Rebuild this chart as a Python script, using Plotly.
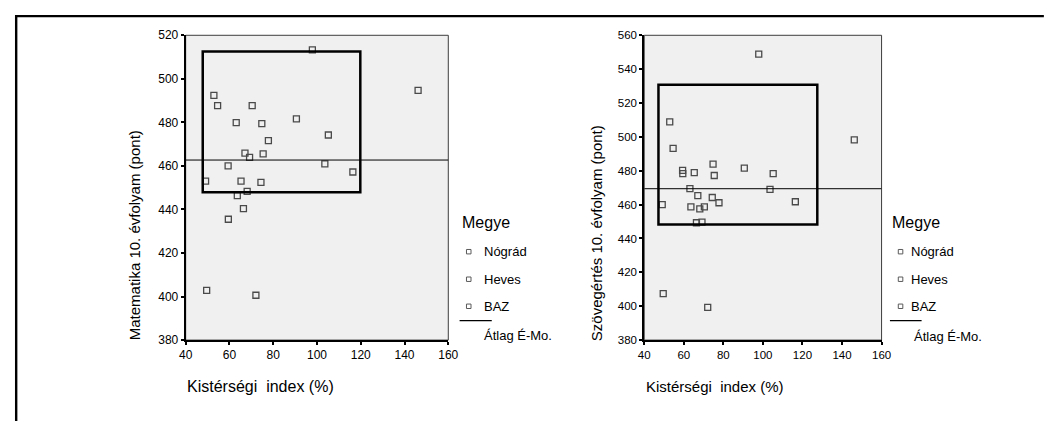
import plotly.graph_objects as go

# The page keeps the browser's 8px body margin, so the figure is sized to fill
# the 1054x429 window exactly; reference pixel positions are shifted by 8px.
PAGE_W, PAGE_H, M = 1054, 429, 8
FW, FH = PAGE_W - 2 * M, PAGE_H - 2 * M


def px(x):
    return (x - M) / FW


def py(y):
    return 1 - (y - M) / FH


# ---------------- data ----------------
counties = ["Nógrád", "Heves", "BAZ"]
index_pct = [97.9, 146.2, 52.9, 54.6, 70.4, 63.1, 74.8, 90.6, 105.2, 77.8, 67.1, 69.2, 75.4,
             59.4, 103.6, 116.4, 49.1, 65.3, 74.4, 68.1, 63.6, 66.4, 59.5, 49.6, 72.1]
matek = [513.3, 494.7, 492.4, 487.7, 487.7, 479.9, 479.4, 481.6, 474.2, 471.6, 465.9, 463.9, 465.5,
         460.0, 460.9, 457.2, 453.0, 453.0, 452.4, 448.3, 446.4, 440.4, 435.5, 402.8, 400.6]
szoveg = [548.9, 498.2, 508.9, 493.2, 458.7, 469.5, 483.9, 481.6, 478.3, 461.1, 465.3, 449.7, 477.2,
          480.2, 469.0, 461.7, 460.0, 478.9, 464.2, 457.5, 458.7, 449.3, 478.3, 407.5, 399.3]
megye = ["Heves", "Heves", "Nógrád", "Nógrád", "BAZ", "BAZ", "Heves", "Heves", "Heves", "BAZ", "BAZ", "BAZ", "BAZ",
         "Nógrád", "Heves", "Heves", "Nógrád", "BAZ", "BAZ", "BAZ", "BAZ", "BAZ", "Nógrád", "Nógrád", "BAZ"]
atlag_matek = 462.7
atlag_szoveg = 469.4
box_matek_x = [47.8, 119.8]
box_matek_y = [447.9, 512.6]
box_szoveg_x = [47.2, 127.5]
box_szoveg_y = [448.3, 530.8]
x_range = [40, 160]
y_range_matek = [380, 520]
y_range_szoveg = [380, 560]
tick_step = 20
legend_title = "Megye"
mean_label = "Átlag É-Mo."
x_title = "Kistérségi\u00a0 index (%)"
y_title_matek = "Matematika 10. évfolyam (pont)"
y_title_szoveg = "Szövegértés 10. évfolyam (pont)"

FONT = "Liberation Sans, Arial, sans-serif"
MARK = dict(symbol="square-open", size=6, color="#4a4a4a", line=dict(width=1.3, color="#4a4a4a"))

fig = go.Figure()
for xa, ya, vals, mean in [("x", "y", matek, atlag_matek), ("x2", "y2", szoveg, atlag_szoveg)]:
    for c in counties:
        xs = [x for x, m in zip(index_pct, megye) if m == c]
        ys = [v for v, m in zip(vals, megye) if m == c]
        fig.add_trace(go.Scatter(x=xs, y=ys, mode="markers", marker=MARK, name=c,
                                 xaxis=xa, yaxis=ya, hoverinfo="x+y+name"))
    fig.add_trace(go.Scatter(x=x_range, y=[mean, mean], mode="lines", name=mean_label,
                             line=dict(color="black", width=1), xaxis=xa, yaxis=ya))

axis_common = dict(
    ticks="outside", ticklen=3, tickwidth=2, tickcolor="black",
    showline=True, linecolor="black", linewidth=2,
    showgrid=False, zeroline=False,
    tickfont=dict(family=FONT, size=12, color="black"),
    dtick=tick_step,
)
small_ticks = dict(family=FONT, size=11.5, color="black")

dom_y = [py(344.5), py(29)]
fig.update_layout(
    width=FW, height=FH,
    margin=dict(l=0, r=0, t=0, b=0),
    paper_bgcolor="white",
    plot_bgcolor="#f0f0f0",
    showlegend=False,
    font=dict(family=FONT, color="black"),
    xaxis=dict(domain=[px(181.5), px(448.5)], range=x_range, tick0=x_range[0], anchor="y", **axis_common),
    yaxis=dict(domain=dom_y, range=y_range_matek, tick0=y_range_matek[0], anchor="x", **axis_common),
    xaxis2=dict(domain=[px(647.7), px(889)], range=x_range, tick0=x_range[0], anchor="y2",
                **{**axis_common, "tickfont": small_ticks}),
    yaxis2=dict(domain=dom_y, range=y_range_szoveg, tick0=y_range_szoveg[0], anchor="x2",
                **{**axis_common, "tickfont": small_ticks}),
)

shapes = []
# plot borders (top/right thin)
for xr, yr in [("x domain", "y domain"), ("x2 domain", "y2 domain")]:
    shapes.append(dict(type="rect", xref=xr, yref=yr, x0=0, x1=1, y0=0, y1=1,
                       line=dict(color="#3c3c3c", width=1), layer="below"))
# boxes
shapes.append(dict(type="rect", xref="x", yref="y", x0=box_matek_x[0], x1=box_matek_x[1],
                   y0=box_matek_y[0], y1=box_matek_y[1], line=dict(color="black", width=2.5)))
shapes.append(dict(type="rect", xref="x2", yref="y2", x0=box_szoveg_x[0], x1=box_szoveg_x[1],
                   y0=box_szoveg_y[0], y1=box_szoveg_y[1], line=dict(color="black", width=2.5)))
# outer frame (left + top), as close to the page edge as the margin allows
shapes.append(dict(type="line", xref="paper", yref="paper", x0=px(9.2), x1=px(9.2), y0=py(8.0), y1=py(PAGE_H),
                   line=dict(color="black", width=2.4)))
shapes.append(dict(type="line", xref="paper", yref="paper", x0=px(8.0), x1=px(PAGE_W), y0=py(9.2), y1=py(9.2),
                   line=dict(color="black", width=2.4)))

annotations = []
# axis titles
annotations.append(dict(text=y_title_matek, x=px(129), y=py(236), xref="paper", yref="paper",
                        textangle=-90, showarrow=False, xanchor="center", yanchor="middle",
                        font=dict(size=15)))
annotations.append(dict(text=y_title_szoveg, x=px(600), y=py(233.5), xref="paper", yref="paper",
                        textangle=-90, showarrow=False, xanchor="center", yanchor="middle",
                        font=dict(size=15)))
annotations.append(dict(text=x_title, x=px(180.5), y=py(392.7), xref="paper", yref="paper",
                        showarrow=False, xanchor="left", yanchor="middle", font=dict(size=16)))
annotations.append(dict(text=x_title, x=px(647), y=py(392.7), xref="paper", yref="paper",
                        showarrow=False, xanchor="left", yanchor="middle", font=dict(size=15)))

# manual legends
for lx, mx, tx, ax_, line_x1, ay in [(460, 469.3, 482.5, 482.5, 492.7, 339.5),
                                      (897.5, 908.3, 916.5, 919.5, 929.7, 341)]:
    annotations.append(dict(text=legend_title, x=px(lx), y=py(222.5), xref="paper", yref="paper",
                            showarrow=False, xanchor="left", yanchor="middle", font=dict(size=16)))
    for c, yy in zip(counties, [253, 281.5, 309.5]):
        shapes.append(dict(type="rect", xref="paper", yref="paper",
                           x0=px(mx - 2.3), x1=px(mx + 2.3), y0=py(yy + 2.3), y1=py(yy - 2.3),
                           line=dict(color="#5a5a5a", width=1)))
        annotations.append(dict(text=c, x=px(tx), y=py(yy), xref="paper", yref="paper",
                                showarrow=False, xanchor="left", yanchor="middle", font=dict(size=13)))
    shapes.append(dict(type="line", xref="paper", yref="paper", x0=px(lx), x1=px(line_x1),
                       y0=py(324.3), y1=py(324.3), line=dict(color="black", width=1.2)))
    annotations.append(dict(text=mean_label, x=px(ax_), y=py(ay), xref="paper", yref="paper",
                            showarrow=False, xanchor="left", yanchor="middle", font=dict(size=13)))

fig.update_layout(shapes=shapes, annotations=annotations)
fig.write_html("out.html", config={"displayModeBar": False})
